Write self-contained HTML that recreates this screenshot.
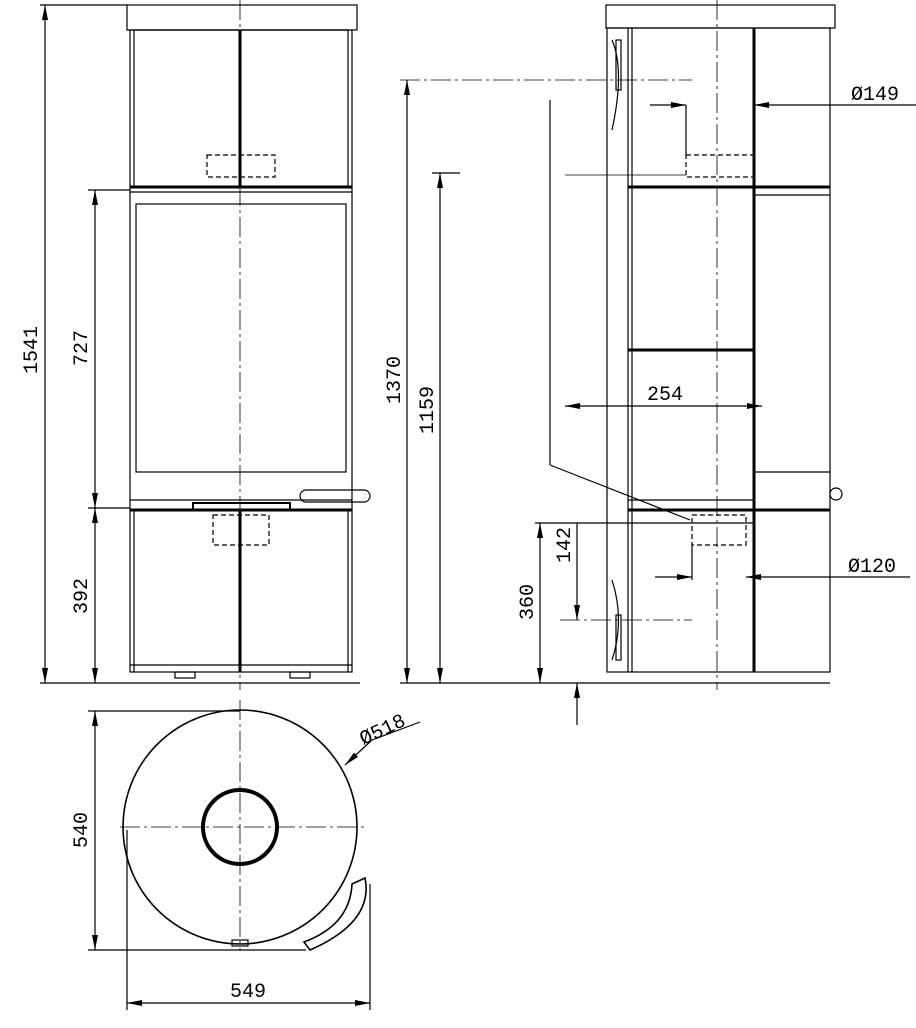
<!DOCTYPE html>
<html><head><meta charset="utf-8"><style>
html,body{margin:0;padding:0;background:#fff}
svg{display:block}
text{font-family:"Liberation Mono",monospace;font-size:20px;fill:#000}
</style></head><body>
<svg width="916" height="1028" viewBox="0 0 916 1028" xmlns="http://www.w3.org/2000/svg">
<defs>
<marker id="a" viewBox="0 0 10 4" refX="10" refY="2" markerWidth="18" markerHeight="6" markerUnits="userSpaceOnUse" orient="auto-start-reverse"><path d="M0,0 L10,2 L0,4z" fill="#000"/></marker>
</defs>
<g fill="none" stroke="#000" stroke-width="1.2">
<!-- FRONT VIEW -->
<rect x="127" y="5" width="230" height="25"/>
<rect x="130" y="30" width="222" height="642"/>
<rect x="134" y="30" width="214" height="157"/>
<line x1="130" y1="187" x2="352" y2="187" stroke-width="3"/>
<line x1="130" y1="192" x2="352" y2="192"/>
<rect x="136" y="204" width="210" height="268"/>
<line x1="130" y1="500" x2="352" y2="500"/>
<line x1="130" y1="510" x2="352" y2="510" stroke-width="3"/>
<line x1="134" y1="510" x2="134" y2="672"/><line x1="348" y1="510" x2="348" y2="672"/>
<line x1="240" y1="30" x2="240" y2="187" stroke-width="3"/>
<line x1="240" y1="510" x2="240" y2="672" stroke-width="3"/>
<line x1="130" y1="665" x2="352" y2="665"/>
<rect x="193" y="503" width="97" height="7" stroke-width="2"/>
<rect x="300" y="490" width="70" height="12" rx="6"/>
<rect x="207" y="155" width="68" height="22" stroke-dasharray="5,3"/>
<rect x="213" y="515" width="56" height="30" stroke-dasharray="5,3"/>
<rect x="175" y="672" width="20" height="6"/><rect x="290" y="672" width="20" height="6"/>
<line x1="240" y1="0" x2="240" y2="690" stroke-dasharray="20,4,3,4" stroke-width="0.8"/>
<!-- front dims -->
<line x1="40" y1="5" x2="127" y2="5"/><line x1="40" y1="683" x2="360" y2="683"/>
<line x1="45" y1="5" x2="45" y2="683" marker-start="url(#a)" marker-end="url(#a)"/>
<line x1="88" y1="190" x2="130" y2="190"/><line x1="88" y1="508" x2="130" y2="508"/>
<line x1="95" y1="190" x2="95" y2="508" marker-start="url(#a)" marker-end="url(#a)"/>
<line x1="95" y1="508" x2="95" y2="683" marker-start="url(#a)" marker-end="url(#a)"/>
<!-- SIDE VIEW -->
<rect x="606" y="5" width="229" height="23"/>
<rect x="607" y="28" width="223" height="644"/>
<line x1="628" y1="28" x2="628" y2="672"/><line x1="632" y1="28" x2="632" y2="672"/>
<line x1="754" y1="28" x2="754" y2="672" stroke-width="3"/>
<line x1="628" y1="187" x2="830" y2="187" stroke-width="3"/>
<line x1="754" y1="195" x2="830" y2="195"/>
<line x1="628" y1="350" x2="754" y2="350" stroke-width="3"/>
<line x1="754" y1="472" x2="830" y2="472"/>
<line x1="628" y1="510" x2="830" y2="510" stroke-width="3"/>
<line x1="628" y1="500" x2="754" y2="500"/>
<circle cx="836" cy="494" r="6"/>
<path d="M612 40 Q625 70 612 130"/><path d="M612 580 Q625 620 612 660"/>
<rect x="616" y="40" width="5" height="50"/><rect x="616" y="615" width="5" height="45"/>
<rect x="686" y="155" width="68" height="22" stroke-dasharray="5,3"/>
<rect x="692" y="515" width="54" height="30" stroke-dasharray="5,3"/>
<line x1="717" y1="0" x2="717" y2="690" stroke-dasharray="20,4,3,4" stroke-width="0.8"/>
<line x1="400" y1="80" x2="692" y2="80" stroke-dasharray="20,4,3,4" stroke-width="0.8"/>
<line x1="565" y1="175" x2="686" y2="175" stroke-width="0.8"/>
<line x1="550" y1="100" x2="550" y2="465"/><line x1="550" y1="465" x2="690" y2="520"/>
<line x1="535" y1="523" x2="754" y2="523"/>
<line x1="560" y1="620" x2="692" y2="620" stroke-dasharray="20,4,3,4" stroke-width="0.8"/>
<line x1="400" y1="683" x2="830" y2="683"/>
<line x1="407" y1="80" x2="407" y2="683" marker-start="url(#a)" marker-end="url(#a)"/>
<line x1="432" y1="173" x2="460" y2="173"/>
<line x1="440" y1="173" x2="440" y2="683" marker-start="url(#a)" marker-end="url(#a)"/>
<line x1="540" y1="523" x2="540" y2="683" marker-start="url(#a)" marker-end="url(#a)"/>
<line x1="577" y1="540" x2="577" y2="620" marker-end="url(#a)"/>
<line x1="577" y1="725" x2="577" y2="683" marker-end="url(#a)"/>
<line x1="577" y1="523" x2="577" y2="540"/>
<line x1="565" y1="406" x2="762" y2="406" marker-start="url(#a)" marker-end="url(#a)"/>
<line x1="686" y1="105" x2="686" y2="155"/>
<line x1="650" y1="105" x2="686" y2="105" marker-end="url(#a)"/>
<line x1="916" y1="105" x2="754" y2="105" marker-end="url(#a)"/>
<line x1="692" y1="545" x2="692" y2="580"/>
<line x1="655" y1="577" x2="692" y2="577" marker-end="url(#a)"/>
<line x1="910" y1="577" x2="746" y2="577" marker-end="url(#a)"/>
<!-- TOP VIEW -->
<circle cx="240" cy="827" r="117" stroke-width="1.6"/>
<circle cx="240" cy="827" r="37" stroke-width="4"/>
<line x1="120" y1="827" x2="365" y2="827" stroke-dasharray="20,4,3,4" stroke-width="0.8"/>
<line x1="240" y1="700" x2="240" y2="950" stroke-dasharray="20,4,3,4" stroke-width="0.8"/>
<path d="M352 884 L365 878 Q374 922 310 950 L304 942 Q350 925 352 884 Z" stroke-width="1.6"/>
<rect x="232" y="940" width="16" height="6"/>
<line x1="88" y1="711" x2="240" y2="711"/><line x1="88" y1="950" x2="306" y2="950"/>
<line x1="95" y1="711" x2="95" y2="950" marker-start="url(#a)" marker-end="url(#a)"/>
<line x1="127" y1="830" x2="127" y2="1010"/><line x1="370" y1="884" x2="370" y2="1010"/>
<line x1="127" y1="1003" x2="370" y2="1003" marker-start="url(#a)" marker-end="url(#a)"/>
<line x1="420" y1="722" x2="372" y2="740"/>
<line x1="372" y1="740" x2="345" y2="765" marker-end="url(#a)"/>
</g>
<text transform="translate(37,350) rotate(-90)" text-anchor="middle">1541</text>
<text transform="translate(87,348) rotate(-90)" text-anchor="middle">727</text>
<text transform="translate(87,596) rotate(-90)" text-anchor="middle">392</text>
<text transform="translate(400,380) rotate(-90)" text-anchor="middle">1370</text>
<text transform="translate(433,410) rotate(-90)" text-anchor="middle">1159</text>
<text transform="translate(533,602) rotate(-90)" text-anchor="middle">360</text>
<text transform="translate(570,545) rotate(-90)" text-anchor="middle">142</text>
<text transform="translate(87,830) rotate(-90)" text-anchor="middle">540</text>
<text x="665" y="400" text-anchor="middle">254</text>
<text x="875" y="100" text-anchor="middle">Ø149</text>
<text x="872" y="572" text-anchor="middle">Ø120</text>
<text x="248" y="997" text-anchor="middle">549</text>
<text transform="translate(385,735) rotate(-25)" text-anchor="middle">Ø518</text>
</svg>
</body></html>
